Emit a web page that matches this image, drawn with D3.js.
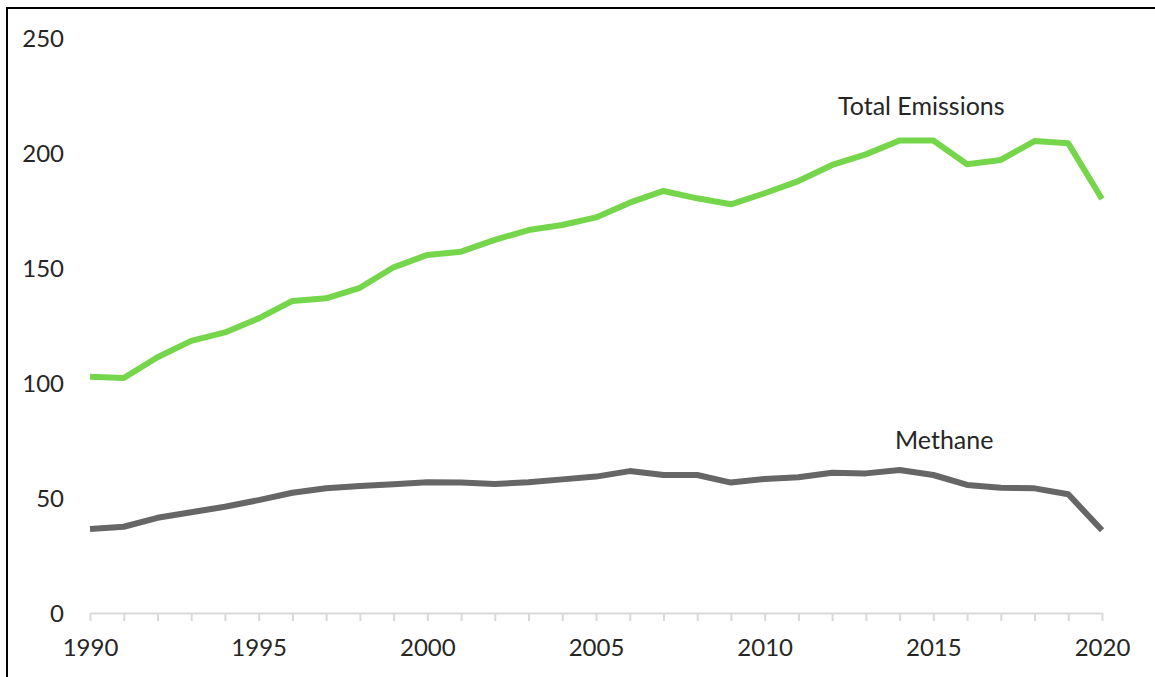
<!DOCTYPE html>
<html lang="en">
<head>
<meta charset="utf-8">
<title>Total emissions and methane</title>
<style>
  body { margin: 0; background: #fff; }
  .tick text { font-family: Lato, "Open Sans", sans-serif; fill: #262626; }
  .label { font-family: Lato, "Open Sans", sans-serif; fill: #262626; }
</style>
</head>
<body>
<svg width="1155" height="677"></svg>
<script src="https://d3js.org/d3.v7.min.js"></script>
<script>

var years = d3.range(1990, 2021);

// one value per year
var totalEmissions = [102.7, 102.2, 111.2, 118.3, 122, 128.1, 135.7, 136.8, 141.4, 150.3,
                      155.7, 157.1, 162.2, 166.5, 168.7, 172, 178.4, 183.5, 180.3, 177.7,
                      182.5, 187.8, 194.8, 199.4, 205.4, 205.4, 195.1, 197, 205.2, 204.2,
                      180];
var methane = [36.5, 37.5, 41.4, 43.8, 46.2, 49.1, 52.3, 54.2, 55.2, 56,
               56.8, 56.7, 56.1, 56.8, 58.1, 59.3, 61.7, 60, 60, 56.7,
               58.3, 59, 61, 60.7, 62.2, 60, 55.7, 54.5, 54.2, 51.6,
               36];
var yTicks = [0, 50, 100, 150, 200, 250];
var xTickLabels = [1990, 1995, 2000, 2005, 2010, 2015, 2020];

var svg = d3.select("svg");

// outer frame (right/bottom edges sit outside the picture)
svg.append("rect")
    .attr("x", 7).attr("y", 8)
    .attr("width", 1160).attr("height", 700)
    .attr("fill", "none")
    .attr("stroke", "#000")
    .attr("stroke-width", 2);

var x = d3.scaleLinear().domain([1990, 2020]).range([90, 1102]);
var y = d3.scaleLinear().domain([0, 250]).range([613, 38]);

// x axis: light grey baseline with a tick every year, labels every 5
var xAxis = svg.append("g")
    .attr("transform", "translate(0," + y(0) + ")")
    .call(d3.axisBottom(x).tickValues(years).tickSize(8).tickSizeOuter(0)
      .tickFormat(function(d) { return xTickLabels.indexOf(d) >= 0 ? d : ""; }));
xAxis.select(".domain").attr("stroke", "#d9d9d9").attr("stroke-width", 2);
xAxis.selectAll(".tick line").attr("stroke", "#d9d9d9").attr("stroke-width", 2);
xAxis.selectAll(".tick text")
    .attr("y", 43).attr("dy", 0)
    .style("font-size", "24px");

// y axis: labels only
var yAxis = svg.append("g")
    .attr("transform", "translate(64,0)")
    .call(d3.axisLeft(y).tickValues(yTicks).tickSize(0).tickPadding(0));
yAxis.select(".domain").remove();
yAxis.selectAll(".tick text")
    .attr("dy", "0.35em")
    .style("font-size", "24px");

var series = [
  { name: "Total Emissions", values: totalEmissions, color: "#76d64b" },
  { name: "Methane", values: methane, color: "#666666" }
];

var line = d3.line()
    .x(function(d, i) { return x(years[i]); })
    .y(function(d) { return y(d); });

svg.selectAll("path.series")
    .data(series)
  .enter().append("path")
    .attr("class", "series")
    .attr("d", function(d) { return line(d.values); })
    .attr("fill", "none")
    .attr("stroke", function(d) { return d.color; })
    .attr("stroke-width", 6)
    .attr("stroke-linejoin", "round");

// series labels
svg.append("text").attr("class", "label")
    .attr("x", 838).attr("y", 115)
    .style("font-size", "25px")
    .text("Total Emissions");
svg.append("text").attr("class", "label")
    .attr("x", 895).attr("y", 449)
    .style("font-size", "25px")
    .text("Methane");

</script>
</body>
</html>
